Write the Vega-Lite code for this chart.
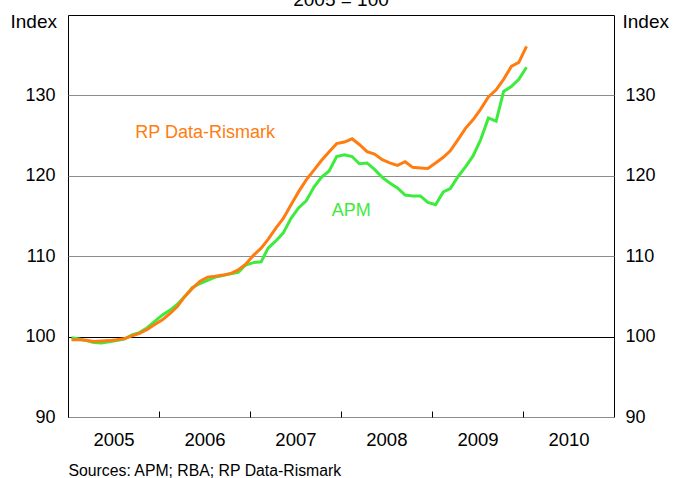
{
  "$schema": "https://vega.github.io/schema/vega-lite/v6.json",
  "width": 546,
  "height": 402,
  "autosize": {"type": "none"},
  "padding": {"left": 68, "top": 15, "right": 59, "bottom": 61},
  "background": "white",
  "config": {
    "font": "Liberation Sans",
    "view": {"stroke": "black", "strokeWidth": 1},
    "axis": {"labelFont": "Liberation Sans", "labelFontSize": 18, "labelColor": "black", "titleFont": "Liberation Sans", "titleFontWeight": "normal", "titleColor": "black", "domain": false}
  },
  "title": {"text": "2005 = 100", "fontSize": 19, "fontWeight": "normal", "font": "Liberation Sans", "color": "black", "anchor": "middle", "frame": "group", "baseline": "alphabetic", "offset": -13},
  "datasets": {
    "series": [
      {"date": "2005-01-15", "rp": 99.6, "apm": 99.85},
      {"date": "2005-02-15", "rp": 99.6, "apm": 99.7},
      {"date": "2005-03-15", "rp": 99.55, "apm": 99.5},
      {"date": "2005-04-15", "rp": 99.4, "apm": 99.25},
      {"date": "2005-05-15", "rp": 99.45, "apm": 99.2},
      {"date": "2005-06-15", "rp": 99.5, "apm": 99.35},
      {"date": "2005-07-15", "rp": 99.6, "apm": 99.5},
      {"date": "2005-08-15", "rp": 99.75, "apm": 99.7},
      {"date": "2005-09-15", "rp": 100.1, "apm": 100.2},
      {"date": "2005-10-15", "rp": 100.4, "apm": 100.5},
      {"date": "2005-11-15", "rp": 100.9, "apm": 101.1},
      {"date": "2005-12-15", "rp": 101.5, "apm": 101.9},
      {"date": "2006-01-15", "rp": 102.1, "apm": 102.7},
      {"date": "2006-02-15", "rp": 102.9, "apm": 103.3},
      {"date": "2006-03-15", "rp": 103.7, "apm": 104.0},
      {"date": "2006-04-15", "rp": 105.0, "apm": 105.0},
      {"date": "2006-05-15", "rp": 106.0, "apm": 106.1},
      {"date": "2006-06-15", "rp": 106.9, "apm": 106.6},
      {"date": "2006-07-15", "rp": 107.4, "apm": 107.0},
      {"date": "2006-08-15", "rp": 107.5, "apm": 107.4},
      {"date": "2006-09-15", "rp": 107.65, "apm": 107.6},
      {"date": "2006-10-15", "rp": 107.85, "apm": 107.8},
      {"date": "2006-11-15", "rp": 108.3, "apm": 108.0},
      {"date": "2006-12-15", "rp": 109.0, "apm": 108.9},
      {"date": "2007-01-15", "rp": 110.1, "apm": 109.2},
      {"date": "2007-02-15", "rp": 111.0, "apm": 109.3},
      {"date": "2007-03-15", "rp": 112.1, "apm": 111.0},
      {"date": "2007-04-15", "rp": 113.5, "apm": 111.9},
      {"date": "2007-05-15", "rp": 114.7, "apm": 112.9},
      {"date": "2007-06-15", "rp": 116.4, "apm": 114.7},
      {"date": "2007-07-15", "rp": 118.0, "apm": 116.0},
      {"date": "2007-08-15", "rp": 119.5, "apm": 116.9},
      {"date": "2007-09-15", "rp": 120.7, "apm": 118.6},
      {"date": "2007-10-15", "rp": 121.9, "apm": 119.8},
      {"date": "2007-11-15", "rp": 123.0, "apm": 120.6},
      {"date": "2007-12-15", "rp": 124.0, "apm": 122.4},
      {"date": "2008-01-15", "rp": 124.2, "apm": 122.6},
      {"date": "2008-02-15", "rp": 124.6, "apm": 122.4},
      {"date": "2008-03-15", "rp": 123.9, "apm": 121.5},
      {"date": "2008-04-15", "rp": 123.0, "apm": 121.6},
      {"date": "2008-05-15", "rp": 122.7, "apm": 120.8},
      {"date": "2008-06-15", "rp": 122.0, "apm": 119.8},
      {"date": "2008-07-15", "rp": 121.6, "apm": 119.1},
      {"date": "2008-08-15", "rp": 121.3, "apm": 118.5},
      {"date": "2008-09-15", "rp": 121.75, "apm": 117.6},
      {"date": "2008-10-15", "rp": 121.05, "apm": 117.5},
      {"date": "2008-11-15", "rp": 120.97, "apm": 117.5},
      {"date": "2008-12-15", "rp": 120.9, "apm": 116.7},
      {"date": "2009-01-15", "rp": 121.6, "apm": 116.4},
      {"date": "2009-02-15", "rp": 122.3, "apm": 118.0},
      {"date": "2009-03-15", "rp": 123.1, "apm": 118.4},
      {"date": "2009-04-15", "rp": 124.5, "apm": 119.9},
      {"date": "2009-05-15", "rp": 125.9, "apm": 121.1},
      {"date": "2009-06-15", "rp": 127.0, "apm": 122.5},
      {"date": "2009-07-15", "rp": 128.3, "apm": 124.5},
      {"date": "2009-08-15", "rp": 129.8, "apm": 127.2},
      {"date": "2009-09-15", "rp": 130.7, "apm": 126.8},
      {"date": "2009-10-15", "rp": 132.0, "apm": 130.5},
      {"date": "2009-11-15", "rp": 133.6, "apm": 131.1},
      {"date": "2009-12-15", "rp": 134.1, "apm": 132.0},
      {"date": "2010-01-15", "rp": 136.1, "apm": 133.5}
    ],
    "labels": [
      {"date": "2005-09-28", "value": 125.3, "label": "RP Data-Rismark"},
      {"date": "2007-11-25", "value": 115.6, "label": "APM"}
    ]
  },
  "encoding": {
    "x": {
      "field": "date",
      "type": "temporal",
      "scale": {"type": "utc", "domain": [{"year": 2005, "month": 1, "date": 1, "utc": true}, {"year": 2011, "month": 1, "date": 1, "utc": true}]},
      "axis": {
        "values": [
          {"year": 2005, "month": 1, "date": 1, "utc": true},
          {"year": 2006, "month": 1, "date": 1, "utc": true},
          {"year": 2007, "month": 1, "date": 1, "utc": true},
          {"year": 2008, "month": 1, "date": 1, "utc": true},
          {"year": 2009, "month": 1, "date": 1, "utc": true},
          {"year": 2010, "month": 1, "date": 1, "utc": true}
        ],
        "format": "%Y",
        "labelOffset": 45.5,
        "labelFlush": false,
        "labelOverlap": false,
        "labelPadding": 19,
        "labelFontSize": 18.5,
        "tickSize": -6,
        "tickColor": "black",
        "grid": false,
        "title": "Sources: APM; RBA; RP Data-Rismark",
        "titleFontSize": 15.8,
        "titleAnchor": "start",
        "titleAlign": "left",
        "titleX": 0,
        "titleY": 58,
        "titleBaseline": "alphabetic"
      }
    }
  },
  "layer": [
    {
      "data": {"name": "series"},
      "mark": {"type": "line", "color": "#3DEB3D", "strokeWidth": 3},
      "encoding": {
        "y": {
          "field": "apm",
          "type": "quantitative",
          "scale": {"domain": [90, 140], "nice": false, "zero": false},
          "axis": {
            "orient": "left",
            "values": [90, 100, 110, 120, 130],
            "ticks": false,
            "labelPadding": 13,
            "grid": true,
            "gridColor": {"condition": {"test": "datum.value === 100", "value": "black"}, "value": "#8c8c8c"},
            "gridWidth": 1,
            "gridOpacity": 1,
            "title": "Index",
            "titleFontSize": 19,
            "titleAngle": 0,
            "titleAlign": "left",
            "titleBaseline": "alphabetic",
            "titleX": -58,
            "titleY": 12
          }
        }
      }
    },
    {
      "data": {"name": "series"},
      "mark": {"type": "line", "color": "#FF7C10", "strokeWidth": 3},
      "encoding": {
        "y": {
          "field": "rp",
          "type": "quantitative",
          "scale": {"domain": [90, 140], "nice": false, "zero": false},
          "axis": null
        }
      }
    },
    {
      "data": {"name": "labels"},
      "mark": {"type": "text", "align": "left", "baseline": "middle", "fontSize": 18, "font": "Liberation Sans"},
      "encoding": {
        "y": {
          "field": "value",
          "type": "quantitative",
          "scale": {"domain": [90, 140], "nice": false, "zero": false},
          "axis": {
            "orient": "right",
            "values": [90, 100, 110, 120, 130],
            "ticks": false,
            "labelPadding": 11,
            "grid": false,
            "title": "Index",
            "titleFontSize": 19,
            "titleAngle": 0,
            "titleAlign": "left",
            "titleBaseline": "alphabetic",
            "titleX": 8,
            "titleY": 12
          }
        },
        "text": {"field": "label"},
        "color": {"field": "label", "type": "nominal", "scale": {"domain": ["RP Data-Rismark", "APM"], "range": ["#FF7C10", "#3DEB3D"]}, "legend": null}
      }
    }
  ],
  "resolve": {"scale": {"y": "independent"}}
}
